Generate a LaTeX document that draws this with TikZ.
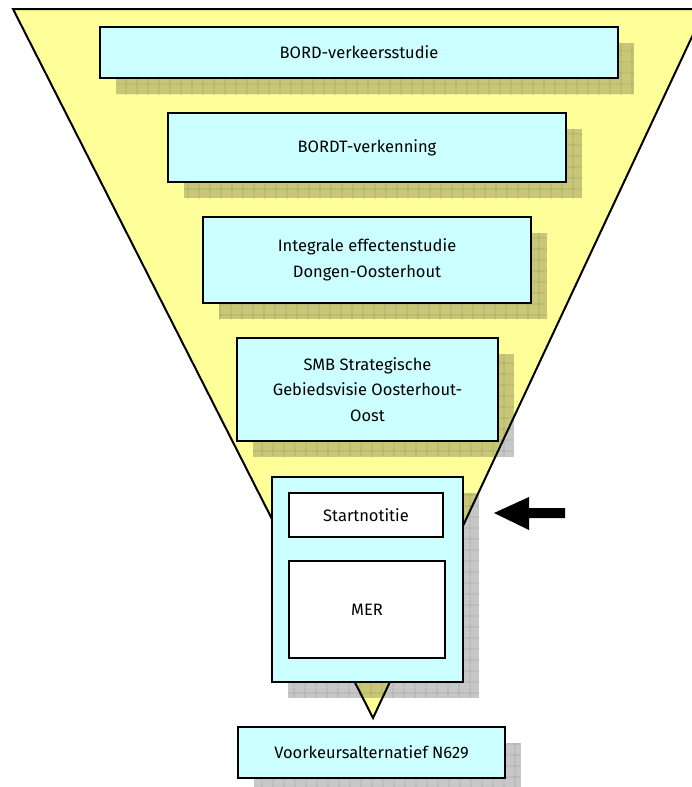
\documentclass[tikz,border=0pt]{standalone}
\usepackage{fontspec}
\setmainfont{Fira Sans}
\usetikzlibrary{shadows,patterns.meta}
\definecolor{funnel}{HTML}{FFFF99}
\definecolor{boxcyan}{HTML}{CCFFFF}
\tikzset{
  stageshadow/.style={
    general shadow={shadow xshift=16pt, shadow yshift=-16pt, fill=black, fill opacity=0.22, draw=none},
    general shadow={shadow xshift=16pt, shadow yshift=-16pt, draw=none,
      pattern={Hatch[angle=0,distance=10.5pt,line width=0.7pt]}, pattern color=black, fill opacity=0.15}},
  stage/.style={draw=black, line width=2pt, fill=boxcyan, align=center, inner sep=0pt,
    font=\fontsize{16.5}{25.5}\selectfont, stageshadow},
  innerbox/.style={draw=black, line width=1.5pt, fill=white, align=center, inner sep=0pt,
    font=\fontsize{16.5}{25.5}\selectfont},
  funnelshape/.style={draw=black, line width=2pt, fill=funnel, line join=miter},
  pointer/.style={fill=black, draw=none}
}
\begin{document}
\begin{tikzpicture}[x=1pt,y=-1pt]
\useasboundingbox (0,0) rectangle (692,787);
\clip (0,0) rectangle (692,787);
\fill[white] (0,0) rectangle (692,787);
\draw[funnelshape] (13,9) -- (705,9) -- (373,718) -- cycle;
\node[stage, minimum width=518pt, minimum height=51pt] (bord) at (359,52.5) {BORD-verkeersstudie};
\node[stage, minimum width=398pt, minimum height=69pt] (bordt) at (367,147.5) {BORDT-verkenning};
\node[stage, minimum width=328pt, minimum height=86pt] (ies) at (367,260) {Integrale effectenstudie\\Dongen-Oosterhout};
\node[stage, minimum width=261pt, minimum height=103pt] (smb) at (367.5,389.5) {SMB Strategische\\Gebiedsvisie Oosterhout-\\Oost};
\node[stage, minimum width=191pt, minimum height=205pt] (outer) at (367.5,579.5) {};
\node[innerbox, minimum width=154pt, minimum height=44pt] (start) at (366,515) {Startnotitie};
\node[innerbox, minimum width=156pt, minimum height=97pt] (mer) at (367,609.5) {MER};
\node[stage, minimum width=267pt, minimum height=51pt] (vka) at (371.5,752.5) {Voorkeursalternatief N629};
\fill[pointer] (494,513) -- (529,497) -- (529,508) -- (565,508) -- (565,518) -- (529,518) -- (529,530) -- cycle;
\end{tikzpicture}
\end{document}
